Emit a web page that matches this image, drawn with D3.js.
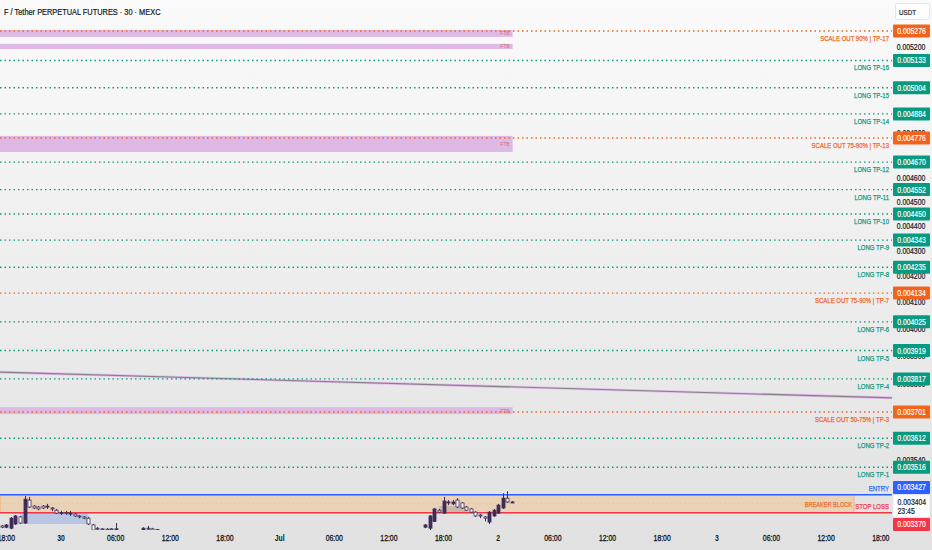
<!DOCTYPE html>
<html>
<head>
<meta charset="utf-8">
<script src="https://cdn.jsdelivr.net/npm/d3@7"></script>
<style>
  body { margin: 0; background: #fff; }
  svg { display: block; }
  text { font-family: 'Liberation Sans', Arial, sans-serif; }
</style>
</head>
<body>
<svg id="chart" width="932" height="550"></svg>
<script>
'use strict';

// target levels drawn by the indicator, top to bottom
const levelNames = [
  'SCALE OUT 90% | TP-17', 'LONG TP-16', 'LONG TP-15', 'LONG TP-14',
  'SCALE OUT 75-90% | TP-13', 'LONG TP-12', 'LONG TP-11', 'LONG TP-10',
  'LONG TP-9', 'LONG TP-8', 'SCALE OUT 75-90% | TP-7', 'LONG TP-6',
  'LONG TP-5', 'LONG TP-4', 'SCALE OUT 50-75% | TP-3', 'LONG TP-2', 'LONG TP-1',
];
const levelPrices = [
  0.005276, 0.005133, 0.005004, 0.004884, 0.004776, 0.004670, 0.004552, 0.004450,
  0.004343, 0.004235, 0.004134, 0.004025, 0.003919, 0.003817, 0.003701, 0.003612, 0.003516,
];
const levelKinds = [
  'scale', 'long', 'long', 'long', 'scale', 'long', 'long', 'long',
  'long', 'long', 'scale', 'long', 'long', 'long', 'scale', 'long', 'long',
];

const entryPrice = 0.003427;
const stopPrice = 0.003370;
const lastPrice = 0.003404;
const countdown = '23:45';

// right scale ticks (partly under the level boxes)
const priceTicks = [0.0052, 0.0048, 0.0046, 0.0045, 0.0044, 0.0043, 0.0042,
  0.0041, 0.0040, 0.0039, 0.0038, 0.00354, 0.00346];

// bottom time ticks
const timeTicks = ['2025-06-29T18:00', '2025-06-30T00:00', '2025-06-30T06:00', '2025-06-30T12:00',
  '2025-06-30T18:00', '2025-07-01T00:00', '2025-07-01T06:00', '2025-07-01T12:00', '2025-07-01T18:00',
  '2025-07-02T00:00', '2025-07-02T06:00', '2025-07-02T12:00', '2025-07-02T18:00',
  '2025-07-03T00:00', '2025-07-03T06:00', '2025-07-03T12:00', '2025-07-03T18:00'];
const timeTickLabels = ['18:00', '30', '06:00', '12:00', '18:00', 'Jul', '06:00', '12:00', '18:00',
  '2', '06:00', '12:00', '18:00', '3', '06:00', '12:00', '18:00'];
const boldTicks = ['30', 'Jul', '2', '3'];

// 30 min candles that are inside the view: time, open, high, low, close
const candles = [
  ['2025-06-29T17:30', 0.003329, 0.003332, 0.003322, 0.003325],
  ['2025-06-29T18:00', 0.003325, 0.003335, 0.003322, 0.003332],
  ['2025-06-29T18:30', 0.003322, 0.003357, 0.003319, 0.003353],
  ['2025-06-29T19:00', 0.003335, 0.003363, 0.003332, 0.003360],
  ['2025-06-29T19:30', 0.003357, 0.003360, 0.003335, 0.003338],
  ['2025-06-29T20:00', 0.003338, 0.003423, 0.003335, 0.003413],
  ['2025-06-29T20:30', 0.003410, 0.003420, 0.003385, 0.003388],
  ['2025-06-29T21:00', 0.003391, 0.003394, 0.003382, 0.003385],
  ['2025-06-29T21:30', 0.003388, 0.003391, 0.003378, 0.003382],
  ['2025-06-29T22:00', 0.003391, 0.003394, 0.003382, 0.003385],
  ['2025-06-29T22:30', 0.003388, 0.003398, 0.003382, 0.003391],
  ['2025-06-29T23:00', 0.003385, 0.003388, 0.003375, 0.003382],
  ['2025-06-29T23:30', 0.003378, 0.003382, 0.003366, 0.003369],
  ['2025-06-30T00:00', 0.003369, 0.003376, 0.003363, 0.003371],
  ['2025-06-30T00:30', 0.003371, 0.003376, 0.003363, 0.003369],
  ['2025-06-30T01:00', 0.003366, 0.003376, 0.003360, 0.003369],
  ['2025-06-30T01:30', 0.003366, 0.003369, 0.003357, 0.003360],
  ['2025-06-30T02:00', 0.003360, 0.003363, 0.003353, 0.003357],
  ['2025-06-30T02:30', 0.003357, 0.003360, 0.003350, 0.003353],
  ['2025-06-30T03:00', 0.003353, 0.003357, 0.003332, 0.003335],
  ['2025-06-30T03:30', 0.003332, 0.003335, 0.003310, 0.003316],
  ['2025-06-30T04:00', 0.003322, 0.003325, 0.003316, 0.003319],
  ['2025-06-30T04:30', 0.003320, 0.003322, 0.003315, 0.003318],
  ['2025-06-30T05:00', 0.003319, 0.003322, 0.003314, 0.003317],
  ['2025-06-30T05:30', 0.003320, 0.003322, 0.003314, 0.003318],
  ['2025-06-30T06:00', 0.003318, 0.003338, 0.003312, 0.003320],
  ['2025-06-30T09:00', 0.003316, 0.003325, 0.003312, 0.003322],
  ['2025-06-30T09:30', 0.003322, 0.003329, 0.003316, 0.003319],
  ['2025-06-30T10:00', 0.003320, 0.003323, 0.003312, 0.003316],
  ['2025-06-30T10:30', 0.003318, 0.003319, 0.003314, 0.003317],
  ['2025-07-01T16:00', 0.003325, 0.003335, 0.003322, 0.003332],
  ['2025-07-01T16:30', 0.003322, 0.003363, 0.003316, 0.003360],
  ['2025-07-01T17:00', 0.003343, 0.003385, 0.003341, 0.003382],
  ['2025-07-01T17:30', 0.003378, 0.003382, 0.003369, 0.003372],
  ['2025-07-01T18:00', 0.003369, 0.003420, 0.003366, 0.003407],
  ['2025-07-01T18:30', 0.003401, 0.003410, 0.003394, 0.003404],
  ['2025-07-01T19:00', 0.003398, 0.003410, 0.003394, 0.003404],
  ['2025-07-01T19:30', 0.003410, 0.003416, 0.003385, 0.003388],
  ['2025-07-01T20:00', 0.003401, 0.003404, 0.003382, 0.003385],
  ['2025-07-01T20:30', 0.003388, 0.003391, 0.003375, 0.003378],
  ['2025-07-01T21:00', 0.003382, 0.003385, 0.003369, 0.003372],
  ['2025-07-01T21:30', 0.003372, 0.003375, 0.003357, 0.003360],
  ['2025-07-01T22:00', 0.003363, 0.003366, 0.003353, 0.003360],
  ['2025-07-01T22:30', 0.003357, 0.003360, 0.003343, 0.003353],
  ['2025-07-01T23:00', 0.003341, 0.003375, 0.003335, 0.003372],
  ['2025-07-01T23:30', 0.003360, 0.003382, 0.003357, 0.003378],
  ['2025-07-02T00:00', 0.003369, 0.003398, 0.003366, 0.003394],
  ['2025-07-02T00:30', 0.003385, 0.003432, 0.003382, 0.003416],
  ['2025-07-02T01:00', 0.003416, 0.003438, 0.003401, 0.003404],
  ['2025-07-02T01:30', 0.003403, 0.003407, 0.003401, 0.003404],
];

// purple boxes drawn on the chart: start, end, top price, bottom price
const purpleZones = [
  ['2025-06-29T12:00', '2025-07-02T01:35', 0.005281, 0.005247],
  ['2025-06-29T12:00', '2025-07-02T01:35', 0.005213, 0.005188],
  ['2025-06-29T12:00', '2025-07-02T01:35', 0.004785, 0.004714],
  ['2025-06-29T12:00', '2025-07-02T01:35', 0.003718, 0.003694],
];
const blueZone = ['2025-06-29T19:30', '2025-06-30T03:00', 0.003369, 0.003335];
const grayZone = ['2025-07-01T17:30', '2025-07-01T20:30', 0.003391, 0.003372];
const breakerEnd = '2025-07-03T15:04';
// trend line end points: time, price
const trendLine = [['2025-06-29T17:18', 0.003841], ['2025-07-03T19:14', 0.003750]];

const W = 932, H = 550;
const plotW = 892, plotH = 530;
const parse = d3.utcParse('%Y-%m-%dT%H:%M');

const col = {
  green: '#089981', orange: '#f2641c', blue: '#2962ff', red: '#f23645',
  candle: '#3f2c57', text: '#131722',
};

const svg = d3.select('#chart');

const x = d3.scaleUtc()
  .domain([parse('2025-06-29T17:18'), parse('2025-07-03T19:14')])
  .range([0, plotW]);
const y = d3.scaleLog()
  .domain([0.0033164, 0.005430])
  .range([plotH, 0]);

// squeeze a text to look like the narrow chart font, with a hairline to thicken it
const narrow = (k, heavy = 0.25) => (sel) => sel.each(function () {
  const len = this.getComputedTextLength();
  const t = d3.select(this);
  t.attr('textLength', len * k).attr('lengthAdjust', 'spacingAndGlyphs');
  if (heavy > 0) t.attr('stroke', t.attr('fill')).attr('stroke-width', heavy);
});

//background gradient (white at top to light gray at bottom)
const defs = svg.append('defs');
const grad = defs.append('linearGradient')
  .attr('id', 'bg').attr('x1', 0).attr('y1', 0).attr('x2', 0).attr('y2', 1);
grad.append('stop').attr('offset', '0%').attr('stop-color', '#fafafa');
grad.append('stop').attr('offset', '100%').attr('stop-color', '#e1e1e1');
defs.append('clipPath').attr('id', 'plotClip')
  .append('rect').attr('width', plotW).attr('height', plotH);

svg.append('rect')
  .attr('width', W).attr('height', H)
  .attr('fill', 'url(#bg)');

const plot = svg.append('g').attr('clip-path', 'url(#plotClip)');

//purple zones
purpleZones.forEach((z) => {
  plot.append('rect')
    .attr('x', x(parse(z[0])))
    .attr('y', y(z[2]))
    .attr('width', x(parse(z[1])) - x(parse(z[0])))
    .attr('height', y(z[3]) - y(z[2]))
    .attr('fill', '#dfb9e5');
  plot.append('text')
    .attr('x', x(parse(z[1])) - 3)
    .attr('y', (y(z[2]) + y(z[3])) / 2 + 2)
    .attr('text-anchor', 'end')
    .attr('font-size', 5)
    .attr('fill', '#c9748f')
    .text('FTB');
});

//breaker block between entry and stop loss
const bx0 = x(parse(trendLine[0][0]));
const bx1 = x(parse(breakerEnd));
const mid = Math.sqrt(entryPrice * stopPrice);
plot.append('rect')
  .attr('x', bx0).attr('y', y(entryPrice))
  .attr('width', bx1 - bx0)
  .attr('height', y(stopPrice) - y(entryPrice))
  .attr('fill', 'rgba(255,160,40,0.24)')
  .attr('stroke', 'rgba(240,160,60,0.6)')
  .attr('stroke-width', 1);
plot.append('line')
  .attr('x1', bx0).attr('x2', bx1)
  .attr('y1', y(mid)).attr('y2', y(mid))
  .attr('stroke', 'rgba(240,170,80,0.4)')
  .attr('stroke-dasharray', '1.5 3');
plot.append('text')
  .attr('x', bx1 - 2)
  .attr('y', y(mid) + 3)
  .attr('text-anchor', 'end')
  .attr('font-size', 8)
  .attr('fill', '#ec6a2e')
  .text('BREAKER BLOCK')
  .call(narrow(0.7));

//blue and gray zones under the candles
[[blueZone, 'rgba(60,110,230,0.25)'], [grayZone, 'rgba(130,130,138,0.3)']].forEach(([z, c]) => {
  plot.append('rect')
    .attr('x', x(parse(z[0])))
    .attr('y', y(z[2]))
    .attr('width', x(parse(z[1])) - x(parse(z[0])))
    .attr('height', y(z[3]) - y(z[2]))
    .attr('fill', c);
});

//trend line
const tl = d3.line().x((d) => x(parse(d[0]))).y((d) => y(d[1]));
plot.append('path').attr('d', tl(trendLine))
  .attr('fill', 'none').attr('stroke', '#dfbde6').attr('stroke-width', 2.6);
plot.append('path').attr('d', tl(trendLine))
  .attr('fill', 'none').attr('stroke', '#8a7d90').attr('stroke-width', 1.1);

//dotted level lines + their names
levelPrices.forEach((p, i) => {
  const c = levelKinds[i] === 'scale' ? col.orange : col.green;
  plot.append('line')
    .attr('x1', 0).attr('x2', plotW)
    .attr('y1', y(p)).attr('y2', y(p))
    .attr('stroke', c)
    .attr('stroke-width', 1.4)
    .attr('stroke-dasharray', '1.5 3');
  svg.append('text')
    .attr('x', 889).attr('y', y(p) + 10)
    .attr('text-anchor', 'end')
    .attr('font-size', 8)
    .attr('fill', c)
    .text(levelNames[i])
    .call(narrow(0.75));
});

//entry and stop lines
[[entryPrice, col.blue, 'ENTRY'], [stopPrice, col.red, 'STOP LOSS']].forEach(([p, c, name]) => {
  plot.append('line')
    .attr('x1', 0).attr('x2', plotW)
    .attr('y1', y(p)).attr('y2', y(p))
    .attr('stroke', c).attr('stroke-width', 1.4);
  svg.append('text')
    .attr('x', 889).attr('y', y(p) - 4)
    .attr('text-anchor', 'end')
    .attr('font-size', 8)
    .attr('fill', c)
    .text(name)
    .call(narrow(0.75));
});

//candles
const bw = 3;
const cg = plot.append('g');
candles.forEach((d) => {
  const cx = Math.round(x(parse(d[0]))) + 0.5;
  const up = d[4] >= d[1];
  cg.append('line')
    .attr('x1', cx).attr('x2', cx)
    .attr('y1', y(d[2])).attr('y2', y(d[3]))
    .attr('stroke', col.candle).attr('stroke-width', 1);
  const top = y(Math.max(d[1], d[4]));
  const bot = y(Math.min(d[1], d[4]));
  cg.append('rect')
    .attr('x', cx - bw / 2).attr('y', top)
    .attr('width', bw).attr('height', Math.max(1, bot - top))
    .attr('fill', up ? col.candle : '#ffffff')
    .attr('stroke', col.candle).attr('stroke-width', 0.8);
});

//title
svg.append('text')
  .attr('x', 4).attr('y', 15)
  .attr('font-size', 8.6)
  .attr('fill', col.text)
  .text('F / Tether PERPETUAL FUTURES · 30 · MEXC')
  .call(narrow(0.86, 0.2));

//time axis labels
timeTicks.forEach((t, i) => {
  const bold = boldTicks.includes(timeTickLabels[i]);
  svg.append('text')
    .attr('x', x(parse(t))).attr('y', 541)
    .attr('text-anchor', 'middle')
    .attr('font-size', 8.6)
    .attr('font-weight', bold ? 'bold' : 'normal')
    .attr('fill', col.text)
    .text(timeTickLabels[i])
    .call(narrow(0.8, bold ? 0 : 0.3));
});

//price scale: plain ticks
const fmt = d3.format('.6f');
priceTicks.forEach((p) => {
  svg.append('text')
    .attr('x', 911).attr('y', y(p) + 3)
    .attr('text-anchor', 'middle')
    .attr('font-size', 8.2)
    .attr('fill', col.text)
    .text(fmt(p))
    .call(narrow(0.84, 0.2));
});

//price scale boxes, pushed apart around the live price box like the platform does
const boxH = 13;
const lastTop = y(lastPrice) - 7, lastBot = lastTop + 22;
const boxes = levelPrices.map((p, i) => ({ p, c: levelKinds[i] === 'scale' ? col.orange : col.green }))
  .concat([{ p: entryPrice, c: col.blue }, { p: stopPrice, c: col.red }])
  .map((b) => ({ ...b, top: y(b.p) - boxH / 2 }));
const above = boxes.filter((b) => b.p > lastPrice).sort((a, b) => b.top - a.top);
let limit = lastTop - 1;
above.forEach((b) => { if (b.top + boxH > limit) b.top = limit - boxH; limit = b.top - 1; });
const below = boxes.filter((b) => b.p < lastPrice).sort((a, b) => a.top - b.top);
limit = lastBot + 1;
below.forEach((b) => { if (b.top < limit) b.top = limit; limit = b.top + boxH + 1; });

boxes.forEach((b) => {
  svg.append('rect')
    .attr('x', 893).attr('y', b.top)
    .attr('width', 37).attr('height', boxH)
    .attr('rx', 1)
    .attr('fill', b.c);
  svg.append('text')
    .attr('x', 911.5).attr('y', b.top + 9.5)
    .attr('text-anchor', 'middle')
    .attr('font-size', 8.2)
    .attr('fill', '#ffffff')
    .text(fmt(b.p))
    .call(narrow(0.84, 0.15));
});

//live price box with bar countdown
svg.append('rect')
  .attr('x', 893).attr('y', lastTop)
  .attr('width', 37).attr('height', lastBot - lastTop)
  .attr('fill', '#ffffff')
  .attr('stroke', '#e0e3eb').attr('stroke-width', 0.6);
svg.append('text')
  .attr('x', 897.5).attr('y', lastTop + 10)
  .attr('font-size', 8.2).attr('fill', col.text)
  .text(fmt(lastPrice))
  .call(narrow(0.84, 0.2));
svg.append('text')
  .attr('x', 897.5).attr('y', lastTop + 19.5)
  .attr('font-size', 8.2).attr('fill', col.text)
  .text(countdown)
  .call(narrow(0.84, 0.2));

//currency box
svg.append('rect')
  .attr('x', 895.5).attr('y', 3.5)
  .attr('width', 34).attr('height', 16)
  .attr('rx', 2)
  .attr('fill', '#ffffff')
  .attr('stroke', '#e0e3eb');
svg.append('text')
  .attr('x', 899).attr('y', 14.5)
  .attr('font-size', 7.6).attr('fill', col.text)
  .text('USDT')
  .call(narrow(0.82, 0.2));
</script>
</body>
</html>
